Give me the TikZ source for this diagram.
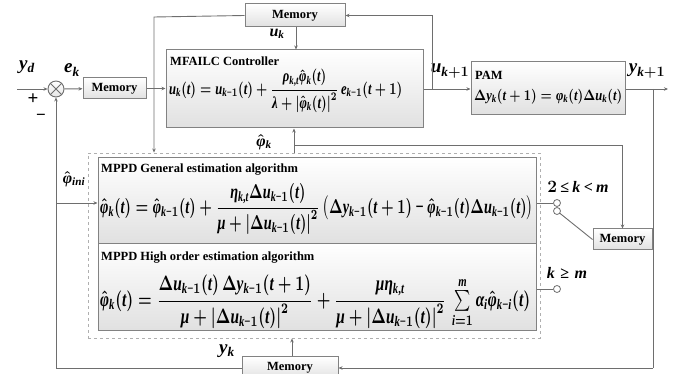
\documentclass[tikz,border=0pt]{standalone}
\usepackage{fontspec}
\setmainfont{Liberation Serif}
\usepackage{amsmath}
\usepackage{graphicx}
\usetikzlibrary{arrows.meta}
\newfontfamily\lbsfam{Liberation Serif}[NFSSFamily=lbs]
\DeclareSymbolFont{lbsbi}{TU}{lbs}{bx}{it}
\DeclareSymbolFont{lbsbn}{TU}{lbs}{bx}{n}
\def\setlet#1{\Umathcode`#1=0 \symlbsbi `#1\relax}
\def\setnum#1{\Umathcode`#1=0 \symlbsbn `#1\relax}
\setlet a\setlet d\setlet e\setlet i\setlet k\setlet m\setlet n\setlet t\setlet u\setlet y
\setnum 0\setnum 1\setnum 2\setnum 3
\Umathcode`+=2 \symlbsbn `+\relax
\Umathcode`-=2 \symlbsbn "2212\relax
\Umathcode`==3 \symlbsbn `=\relax
\Umathcode`<=3 \symlbsbn `<\relax
\Umathcode`(=4 \symlbsbn `(\relax
\Umathcode`)=5 \symlbsbn `)\relax
\Umathcode`,=6 \symlbsbn `,\relax
\Umathchardef\le=3 \symlbsbn "2264\relax
\Umathchardef\ge=3 \symlbsbn "2265\relax
\Umathchardef\rho=0 \symlbsbi "03C1\relax
\Umathchardef\phi=0 \symlbsbi "03C6\relax
\Umathchardef\lambda=0 \symlbsbi "03BB\relax
\Umathchardef\eta=0 \symlbsbi "03B7\relax
\Umathchardef\mu=0 \symlbsbi "03BC\relax
\Umathchardef\alpha=0 \symlbsbi "03B1\relax
\Umathchardef\Delta=0 \symlbsbn "0394\relax
\definecolor{linegray}{RGB}{110,110,110}
\definecolor{boxgray}{RGB}{130,130,130}
\definecolor{dashgray}{RGB}{175,175,175}
\begin{document}
\begin{tikzpicture}[x=1pt,y=-1pt,
  ln/.style={draw=linegray, line width=0.9pt},
  arr/.style={ln, -{Stealth[length=4pt,width=3.5pt]}},
  blk/.style={draw=boxgray, line width=1pt, top color=white, bottom color=black!12, inner sep=0pt},
  mem/.style={blk, font=\bfseries\fontsize{12.5}{13}\selectfont},
  ttl/.style={anchor=west, inner sep=0pt, font=\bfseries\fontsize{12.5}{13}\selectfont},
  fml/.style={anchor=west, inner sep=0pt},
  lab/.style={inner sep=0pt, font=\boldmath\fontsize{19}{21}\selectfont},
  slab/.style={inner sep=0pt, font=\boldmath\fontsize{16}{18}\selectfont},
  sw/.style={circle, draw=linegray, fill=white, line width=0.8pt, inner sep=0pt, minimum size=7pt}
]
\useasboundingbox (0,0) rectangle (697,374);

% blocks
\node[mem, minimum width=63pt, minimum height=21pt] (mem1) at (114.5,88.5) {Memory};
\node[mem, minimum width=100pt, minimum height=23pt] (memtop) at (295,15.5) {Memory};
\node[mem, minimum width=59pt, minimum height=21pt] (memr) at (622.5,239.5) {Memory};
\node[mem, minimum width=96pt, minimum height=22pt] (membot) at (290,368) {Memory};
\node[blk, minimum width=257pt, minimum height=78pt] (ctrl) at (294.5,89) {};
\node[blk, minimum width=154pt, minimum height=53pt] (pam) at (548,88.5) {};
\node[draw=dashgray, dashed, line width=0.9pt, minimum width=452pt, minimum height=185pt, inner sep=0pt] (est) at (314,245.5) {};
\node[blk, minimum width=438pt, minimum height=86pt] (gen) at (317,201) {};
\node[blk, minimum width=438pt, minimum height=87pt] (high) at (317,287.5) {};

% texts inside blocks
\node[ttl] (ctrlt) at (170,61) {MFAILC Controller};
\node[fml] (ctrlf) at (169,91) {\resizebox*{233pt}{43pt}{\boldmath$u_k(t)=u_{k-1}(t)+\dfrac{\rho_{k,t}\hat{\phi}_k(t)}{\lambda+\left|\hat{\phi}_k(t)\right|^2}\,e_{k-1}(t+1)$}};
\node[ttl] (pamt) at (475,75) {PAM};
\node[fml] (pamf) at (474,97) {\resizebox*{148pt}{15pt}{\boldmath$\Delta y_k(t+1)=\phi_k(t)\Delta u_k(t)$}};
\node[ttl] (gent) at (101,170) {MPPD General estimation algorithm};
\node[fml] (genf) at (100,209) {\resizebox*{433pt}{52pt}{\boldmath$\hat{\phi}_k(t)=\hat{\phi}_{k-1}(t)+\dfrac{\eta_{k,t}\Delta u_{k-1}(t)}{\mu+\left|\Delta u_{k-1}(t)\right|^2}\,\bigl(\Delta y_{k-1}(t+1)\mathbin{-}\hat{\phi}_{k-1}(t)\Delta u_{k-1}(t)\bigr)$}};
\node[ttl] (hight) at (101,258) {MPPD High order estimation algorithm};
\node[fml] (highf) at (100,302) {\resizebox*{430pt}{54pt}{\boldmath$\hat{\phi}_k(t)=\dfrac{\Delta u_{k-1}(t)\,\Delta y_{k-1}(t+1)}{\mu+\left|\Delta u_{k-1}(t)\right|^2}+\dfrac{\mu\eta_{k,t}}{\mu+\left|\Delta u_{k-1}(t)\right|^2}\,\sum\limits_{i=1}^{m}\alpha_i\hat{\phi}_{k-i}(t)$}};

% summing junction
\node[circle, draw=linegray, line width=0.9pt, minimum size=16pt, inner sep=0pt, top color=white, bottom color=black!10] (sum) at (56,89) {};
\draw[linegray, line width=0.9pt] (sum.north west) -- (sum.south east) (sum.north east) -- (sum.south west);

% labels
\node[lab] (yd) at (27,67) {$y_d$};
\node[lab] (ek) at (72,70) {$e_k$};
\node[inner sep=0pt, font=\bfseries\fontsize{19}{21}\selectfont] (plus) at (33,99) {+};
\node[inner sep=0pt, font=\bfseries\fontsize{17}{19}\selectfont] (minus) at (41,117) {$-$};
\node[slab] (uk) at (277,34) {$u_k$};
\node[lab] (uk1) at (450,71) {$u_{k+1}$};
\node[lab] (yk1) at (647,71) {$y_{k+1}$};
\node[slab] (phik) at (264,142) {$\hat{\phi}_k$};
\node[slab] (phiini) at (74,179) {$\hat{\phi}_{ini}$};
\node[slab] (c1) at (578,187) {$2\,{\le}\,k\,{<}\,m$};
\node[slab] (c2) at (567,273) {$k\ge m$};
\node[lab] (yk) at (227,351) {$y_k$};

% switch contacts
\node[sw] (s1) at (557,203) {};
\node[sw] (s0) at (557,211) {};
\node[sw] (s2) at (557,289) {};

% coordinates
\coordinate (in) at (17,89);
\coordinate (ini) at (57,203);
\coordinate (jL) at (154,89);
\coordinate (jT) at (154,17);
\coordinate (jU) at (432,89);
\coordinate (jY) at (653,89);
\coordinate (out) at (668,89);
\coordinate (jP) at (294,145);

% connectors
\draw[arr] (in) -- (sum);
\draw[arr] (sum) -- (mem1);
\draw[arr] (mem1) -- (ctrl.west |- mem1);
\draw[arr] (memtop.west) -- (jT) -- (est.north -| jT);
\draw[arr] (memtop.south -| 296,0) -- (ctrl.north -| 296,0);
\draw[arr] (ctrl.east |- jU) -- (pam.west |- jU);
\draw[arr] (jU) |- (memtop.east);
\draw[arr] (pam.east |- jY) -- (out);
\draw[ln] (jY) -- (jY |- membot.east);
\draw[arr] (jY |- membot.east) -- (membot.east);
\draw[arr] (membot.west) -| (sum.south);
\draw[arr] (membot.north -| 292,0) -- (est.south -| 292,0);
\draw[arr] (est.north -| jP) -- (ctrl.south -| jP);
\draw[arr] (jP) -| (memr.north);
\draw[arr] (ini) -- (gen.west |- ini);
\draw[ln] (gen.east |- s1) -- (s1);
\draw[ln] (high.east |- s2) -- (s2);
\draw[ln] (s0) -- (memr.west);
\end{tikzpicture}
\end{document}
